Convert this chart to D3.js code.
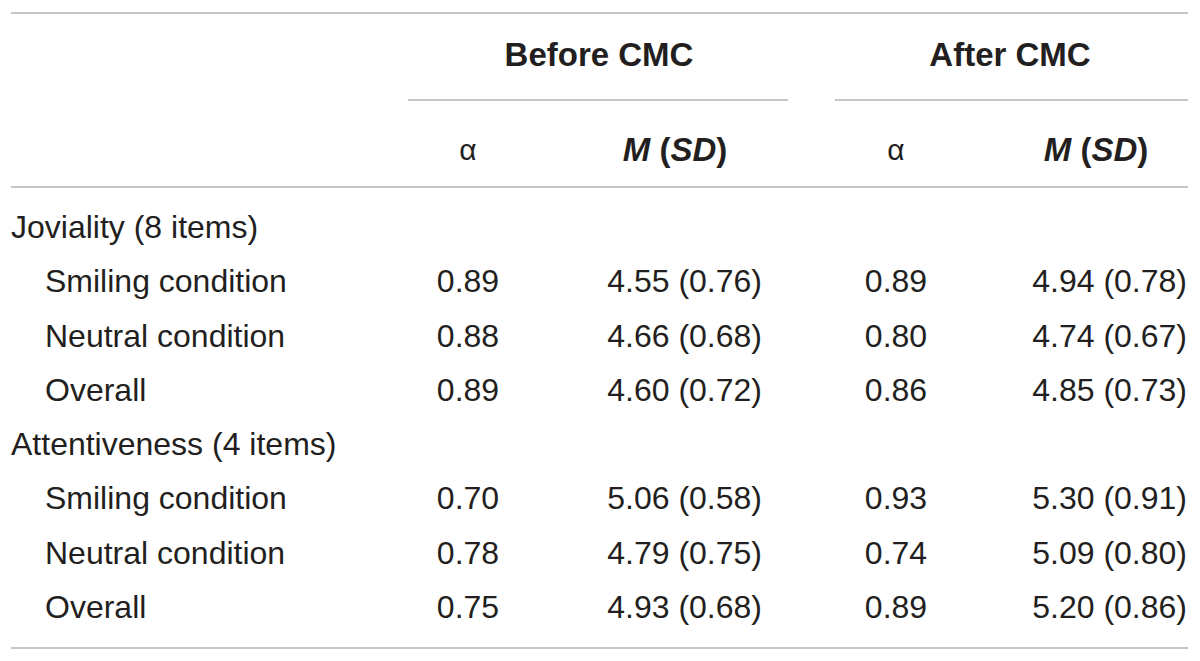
<!DOCTYPE html>
<html lang="en">
<head>
<meta charset="utf-8">
<script src="https://cdn.jsdelivr.net/npm/d3@7"></script>
<style>
  body { margin: 0; background: #fff; }
  text { font-family: "Liberation Sans", Arial, sans-serif; fill: #231f20; }
</style>
</head>
<body>
<script>
// table content
const groups = ["Before CMC", "After CMC"];
const subHeads = ["\u03b1", "M (SD)"];
const rowLabels = [
  "Joviality (8 items)", "Smiling condition", "Neutral condition", "Overall",
  "Attentiveness (4 items)", "Smiling condition", "Neutral condition", "Overall"
];
const isGroupRow = [true, false, false, false, true, false, false, false];
const alphaBefore = ["", "0.89", "0.88", "0.89", "", "0.70", "0.78", "0.75"];
const msdBefore = ["", "4.55 (0.76)", "4.66 (0.68)", "4.60 (0.72)", "", "5.06 (0.58)", "4.79 (0.75)", "4.93 (0.68)"];
const alphaAfter = ["", "0.89", "0.80", "0.86", "", "0.93", "0.74", "0.89"];
const msdAfter = ["", "4.94 (0.78)", "4.74 (0.67)", "4.85 (0.73)", "", "5.30 (0.91)", "5.09 (0.80)", "5.20 (0.86)"];

let w = 1200, h = 661;
let svg = d3.select("body").append("svg").attr("width", w).attr("height", h);

let fs = 32;
let headFs = 33;
let lineColor = "#c6c6c6";

let yScale = d3.scalePoint()
  .domain(d3.range(rowLabels.length))
  .range([238, 618]);

// rules
let rules = [
  {x1: 11, x2: 1188, y: 13},
  {x1: 408, x2: 788, y: 100},
  {x1: 835, x2: 1188, y: 100},
  {x1: 11, x2: 1188, y: 187},
  {x1: 11, x2: 1188, y: 648}
];
svg.selectAll("line.rule")
  .data(rules)
  .enter()
  .append("line")
  .attr("class", "rule")
  .attr("x1", d => d.x1)
  .attr("x2", d => d.x2)
  .attr("y1", d => d.y)
  .attr("y2", d => d.y)
  .attr("stroke", lineColor)
  .attr("stroke-width", 2);

// group headers
let groupX = [599, 1010];
svg.selectAll("text.group")
  .data(groups)
  .enter()
  .append("text")
  .attr("class", "group")
  .attr("x", (d, i) => groupX[i])
  .attr("y", 66)
  .attr("text-anchor", "middle")
  .attr("font-size", headFs + "px")
  .attr("font-weight", "bold")
  .text(d => d);

// sub headers
let subX = [[468, 675], [896, 1096]];
groups.forEach((g, gi) => {
  svg.append("text")
    .attr("x", subX[gi][0])
    .attr("y", 160)
    .attr("text-anchor", "middle")
    .attr("font-size", (fs - 2) + "px")
    .text(subHeads[0]);
  let t = svg.append("text")
    .attr("x", subX[gi][1])
    .attr("y", 161)
    .attr("text-anchor", "middle")
    .attr("font-size", headFs + "px")
    .attr("font-weight", "bold");
  t.append("tspan").attr("font-style", "italic").text("M");
  t.append("tspan").text(" (");
  t.append("tspan").attr("font-style", "italic").text("SD");
  t.append("tspan").text(")");
});

// row labels
svg.selectAll("text.label")
  .data(rowLabels)
  .enter()
  .append("text")
  .attr("class", "label")
  .attr("x", (d, i) => isGroupRow[i] ? 11 : 45)
  .attr("y", (d, i) => yScale(i))
  .attr("font-size", fs + "px")
  .text(d => d);

// value columns
let cols = [
  {vals: alphaBefore, x: 468, anchor: "middle"},
  {vals: msdBefore, x: 762, anchor: "end"},
  {vals: alphaAfter, x: 896, anchor: "middle"},
  {vals: msdAfter, x: 1187, anchor: "end"}
];
cols.forEach(c => {
  svg.selectAll(null)
    .data(c.vals)
    .enter()
    .append("text")
    .attr("x", c.x)
    .attr("y", (d, i) => yScale(i))
    .attr("text-anchor", c.anchor)
    .attr("font-size", fs + "px")
    .text(d => d);
});
</script>
</body>
</html>
